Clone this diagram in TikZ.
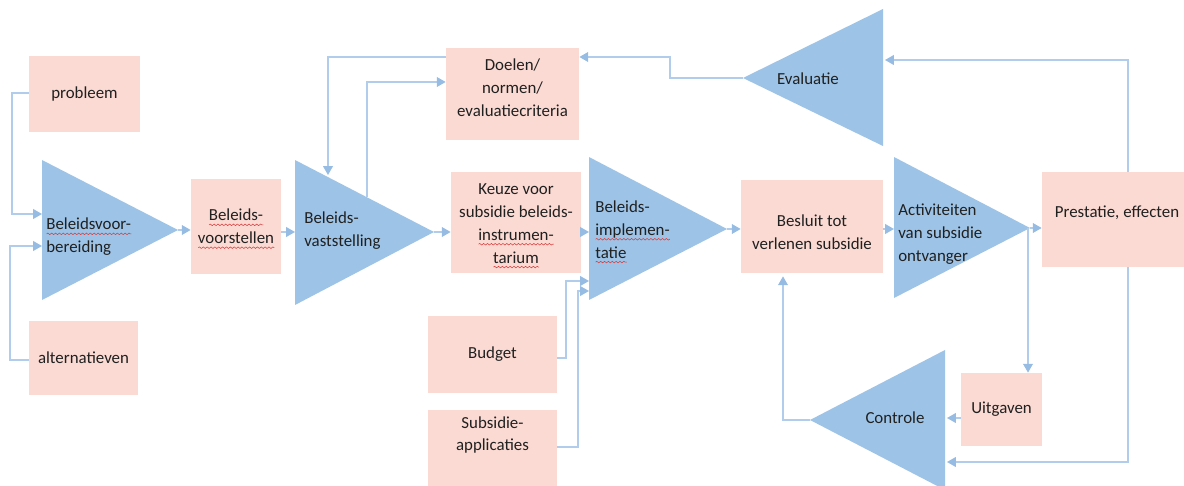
\documentclass[tikz,border=0pt]{standalone}
\usepackage{fontspec}
\setmainfont{Carlito}
\usetikzlibrary{arrows.meta,calc,decorations.pathmorphing}
\definecolor{boxpink}{RGB}{250,218,210}
\definecolor{triblue}{RGB}{157,195,230}
\definecolor{lineblue}{RGB}{178,205,235}
\definecolor{tipblue}{RGB}{150,188,228}
\definecolor{txt}{RGB}{32,32,32}
\definecolor{squig}{RGB}{215,60,60}
\newlength\sqlen
\newcommand\sq[1]{\settowidth\sqlen{#1}\rlap{\tikz[baseline=0pt,x=1pt,y=1pt]\draw[squig,line width=0.3pt,decorate,decoration={snake,amplitude=0.45pt,segment length=2.2pt}] (0,-2.2) -- (\sqlen,-2.2);}#1}
\tikzset{
  box/.style={fill=boxpink, draw=none, inner sep=0pt, text=txt, align=center,
    font=\fontsize{9.6}{13}\selectfont},
  tri/.style={fill=triblue, draw=none},
  lbl/.style={text=txt, align=left, inner sep=0pt, font=\fontsize{9.6}{13}\selectfont},
  conn/.style={draw=lineblue, line width=0.8pt, -{Triangle[length=5pt,width=5.5pt,color=tipblue]}}
}
\begin{document}
\begin{tikzpicture}[x=0.02cm,y=-0.02cm]
\useasboundingbox (0,0) rectangle (1184,486);
% triangles
\fill[tri] (42,160) -- (42,300) -- (178,230) -- cycle;
\fill[tri] (295,160) -- (295,305) -- (434,232) -- cycle;
\fill[tri] (589,157) -- (589,300) -- (727,229) -- cycle;
\fill[tri] (894,157) -- (894,298) -- (1030,228) -- cycle;
\fill[tri] (883,9) -- (883,146) -- (743,78) -- cycle;
\fill[tri] (945,350) -- (945,490) -- (810,420) -- cycle;
% triangle connection points
\coordinate (t1in1) at (42,214);
\coordinate (t1in2) at (42,246);
\coordinate (t1out) at (178,230);
\coordinate (t2in) at (295,232);
\coordinate (t2out) at (434,232);
\coordinate (t2top) at (328,175);
\coordinate (t2up) at (367,197);
\coordinate (t3in) at (589,232);
\coordinate (t3in2) at (589,281);
\coordinate (t3in3) at (589,291);
\coordinate (t3out) at (727,229);
\coordinate (t4in) at (894,229);
\coordinate (t4out) at (1030,228);
\coordinate (t5in) at (885,60);
\coordinate (t5out) at (743,78);
\coordinate (t6in) at (947,418);
\coordinate (t6in2) at (947,462);
\coordinate (t6out) at (810,420);
% triangle labels
\node[lbl, anchor=west] (l1) at (46,237) {\sq{Beleidsvoor-}\\bereiding};
\node[lbl, anchor=west] (l2) at (304,231) {Beleids-\\vaststelling};
\node[lbl, anchor=west] (l3) at (595,232) {Beleids-\\\sq{implemen-}\\\sq{tatie}};
\node[lbl, anchor=west] (l4) at (898,234) {Activiteiten\\van subsidie\\ontvanger};
\node[lbl] (l5) at (808,79) {Evaluatie};
\node[lbl] (l6) at (895,418) {Controle};
% boxes
\node[box, minimum width=2.22cm, minimum height=1.52cm] (probleem) at (84.5,94) {probleem};
\node[box, minimum width=2.18cm, minimum height=1.48cm] (alt) at (83.5,358) {alternatieven};
\node[box, minimum width=1.8cm, minimum height=1.9cm] (voorst) at (236,226.5) {};
\node[lbl, align=center] (voorstt) at (236,229) {\sq{Beleids-}\\\sq{voorstellen}};
\node[box, minimum width=2.66cm, minimum height=1.84cm] (doelen) at (512.5,94) {};
\node[lbl, align=center] (doelent) at (512.5,88) {Doelen/\\normen/\\evaluatiecriteria};
\node[box, minimum width=2.6cm, minimum height=2.02cm] (keuze) at (516,222.5) {};
\node[lbl, align=center] (keuzet) at (516,226) {Keuze voor\\subsidie beleids-\\\sq{instrumen-}\\\sq{tarium}};
\node[box, minimum width=2.58cm, minimum height=1.54cm] (budget) at (492.5,354.5) {Budget};
\node[box, minimum width=2.58cm, minimum height=1.6cm] (subs) at (492.5,450) {};
\node[lbl, align=center] (subst) at (492.5,435) {Subsidie-\\applicaties};
\node[box, minimum width=2.84cm, minimum height=1.86cm] (besluit) at (812,226.5) {};
\node[lbl, align=center] (besluitt) at (812,232) {Besluit tot\\verlenen subsidie};
\node[box, minimum width=2.84cm, minimum height=1.9cm] (prest) at (1113,219.5) {};
\node[lbl] (prestt) at (1117,213) {Prestatie, effecten};
\node[box, minimum width=1.62cm, minimum height=1.46cm] (uitg) at (1001.5,409.5) {Uitgaven};
% connectors
\draw[conn] (probleem.west |- 0,93) -- (12,93) -- (12,214) -- (t1in1);
\draw[conn] (alt.west |- 0,360) -- (10,360) -- (10,246) -- (t1in2);
\draw[conn] (t1out) -- (voorst.west |- t1out);
\draw[conn] (voorst.east |- t2in) -- (t2in);
\draw[conn] (t2out) -- (keuze.west |- t2out);
\draw[conn] (keuze.east |- t3in) -- (t3in);
\draw[conn] (budget.east |- 0,358) -- (566,358) -- (566,281) -- (t3in2);
\draw[conn] (subs.east |- 0,447) -- (578,447) -- (578,291) -- (t3in3);
\draw[conn] (t3out) -- (besluit.west |- t3out);
\draw[conn] (besluit.east |- t4in) -- (t4in);
\draw[conn] (t4out) -- (prest.west |- t4out);
\draw[conn] (1028,228) -- (1028,0 |- uitg.north);
\draw[conn] (uitg.west |- t6in) -- (t6in);
\draw[conn] (t6out) -- (783,420) -- ([yshift=-0.06cm]783,0 |- besluit.south);
\draw[conn] (1128,0 |- prest.south) -- (1128,462) -- (t6in2);
\draw[conn] (1128,0 |- prest.north) -- (1128,60) -- (t5in);
\draw[conn] (t5out) -- (670,78) -- (670,57) -- (doelen.east |- 0,57);
\draw[conn] (doelen.west |- 0,57) -- (328,57) -- (t2top);
\draw[conn] (t2up) -- (367,82) -- (doelen.west |- 0,82);
\end{tikzpicture}
\end{document}
